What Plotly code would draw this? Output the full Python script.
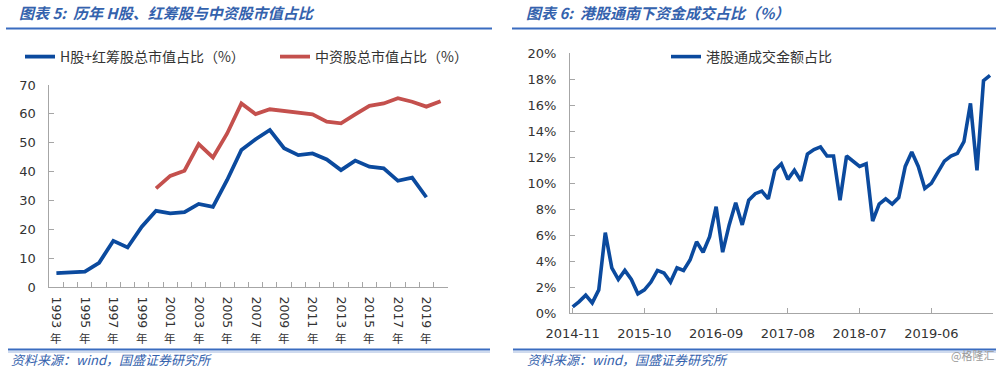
import plotly.graph_objects as go

# ---------------- data ----------------
years = [str(y) for y in range(1993, 2021)]
h_red_chip_share = [4.8, 4.9, 5.3, 8.4, 16.0, 13.7, 20.9, 26.4, 25.5, 25.9, 28.8, 27.8,
                    37.1, 47.5, 51.2, 54.4, 48.1, 45.7, 46.3, 44.2, 40.5, 43.8, 41.7,
                    41.1, 36.8, 37.9, 31.1, None]
chinese_share = [None] * 7 + [34.2, 38.5, 40.3, 49.5, 44.9, 53.2, 63.6, 59.9, 61.6,
                              61.0, 60.2, 59.8, 57.3, 56.7, 59.8, 62.8, 63.6, 65.4,
                              64.2, 62.5, 64.4]
year_labels = [y if (int(y) - 1993) % 2 == 0 else "" for y in years]


def month_range(y0, m0, n):
    out = []
    y, m = y0, m0
    for _ in range(n):
        out.append(f"{y}-{m:02d}")
        m += 1
        if m > 12:
            m = 1
            y += 1
    return out


months = month_range(2014, 11, 65)
sb_turnover_share = [0.5, 0.9, 1.4, 0.8, 1.8, 6.2, 3.5, 2.6, 3.3, 2.6, 1.5, 1.8, 2.4,
                     3.3, 3.1, 2.4, 3.5, 3.3, 4.1, 5.5, 4.7, 5.9, 8.2, 4.7, 6.8, 8.5,
                     6.8, 8.7, 9.2, 9.4, 8.8, 11.0, 11.5, 10.3, 11.0, 10.2, 12.25, 12.6,
                     12.8, 12.1, 12.1, 8.7, 12.1, 11.7, 11.3, 11.5, 7.1, 8.4, 8.8, 8.4,
                     8.9, 11.3, 12.4, 11.3, 9.6, 10.0, 10.9, 11.7, 12.1, 12.3, 13.2,
                     16.15, 11.0, 17.9, 18.3]
month_ticks = ["2014-11", "2015-10", "2016-09", "2017-08", "2018-07", "2019-06"]

# ---------------- styles ----------------
W, H = 1000, 369
BLUE = "#0b4a9e"
RED = "#c4504d"
TITLE_BLUE = "#3462ad"
AXIS = "#a6a6a6"
TXT = "#333333"
CJK = "Noto Sans CJK SC"
NUM = "DejaVu Sans"


def px_x(x):
    return x / W


def px_y(y):
    return 1 - y / H


fig = go.Figure()

fig.add_trace(go.Scatter(x=years, y=h_red_chip_share, mode="lines",
                         name="H股+红筹股总市值占比（%）",
                         line=dict(color=BLUE, width=3.8), xaxis="x", yaxis="y",
                         legend="legend", connectgaps=False))
fig.add_trace(go.Scatter(x=years, y=chinese_share, mode="lines",
                         name="中资股总市值占比（%）",
                         line=dict(color=RED, width=3.8), xaxis="x", yaxis="y",
                         legend="legend", connectgaps=False))
fig.add_trace(go.Scatter(x=months, y=sb_turnover_share, mode="lines",
                         name="港股通成交金额占比",
                         line=dict(color=BLUE, width=3.6), xaxis="x2", yaxis="y2",
                         legend="legend2"))

axis_common = dict(showline=True, linecolor=AXIS, linewidth=1, ticks="inside",
                   ticklen=5, tickcolor=AXIS, showgrid=False, zeroline=False,
                   automargin=False,
                   tickfont=dict(family=NUM, size=13, color=TXT))

fig.update_layout(
    width=W, height=H, autosize=False,
    margin=dict(l=0, r=0, t=0, b=0, pad=0),
    paper_bgcolor="white", plot_bgcolor="white",
    xaxis=dict(axis_common, type="category", domain=[px_x(49.3), px_x(447.7)],
               range=[-0.5, len(years) - 0.5], tickmode="array",
               tickvals=years, ticktext=year_labels, tickson="boundaries",
               tickangle=90, tickfont=dict(family=NUM, size=12.5, color=TXT),
               ticklabelstandoff=6, anchor="y"),
    yaxis=dict(axis_common, domain=[px_y(287), px_y(85)], range=[0, 70], dtick=10,
               ticklabelstandoff=10, anchor="x"),
    xaxis2=dict(axis_common, type="category", domain=[px_x(570), px_x(992.7)],
                range=[-0.41, len(months) - 0.59], tickmode="array",
                tickvals=month_ticks, ticktext=month_ticks, tickangle=0,
                ticklabelstandoff=8, anchor="y2"),
    yaxis2=dict(axis_common, domain=[px_y(313.3), px_y(53.3)], range=[0, 20], dtick=2,
                ticksuffix="%", ticklabelstandoff=10, anchor="x2"),
    legend=dict(orientation="h", x=px_x(20), y=px_y(57), xanchor="left",
                yanchor="middle", bgcolor="rgba(0,0,0,0)",
                font=dict(family=CJK, size=14, color=TXT),
                entrywidth=210, entrywidthmode="pixels"),
    legend2=dict(orientation="h", x=px_x(666), y=px_y(57), xanchor="left",
                 yanchor="middle", bgcolor="rgba(0,0,0,0)",
                 font=dict(family=CJK, size=14, color=TXT)),
    showlegend=True,
)

annotations = []
# upright "年" under rotated year labels
for i, lab in enumerate(year_labels):
    if lab:
        annotations.append(dict(x=i, xref="x", y=px_y(338), yref="paper", text="年",
                                showarrow=False, yanchor="middle",
                                font=dict(family=CJK, size=11.5, color=TXT)))

title_font = dict(family=CJK, size=15, color=TITLE_BLUE, style="italic", weight="bold")
foot_font = dict(family=CJK, size=13, color=TITLE_BLUE, style="italic")
annotations += [
    dict(x=px_x(17), y=px_y(13), xref="paper", yref="paper", xanchor="left",
         yanchor="middle", text="图表 5:  历年 H股、红筹股与中资股市值占比",
         showarrow=False, font=title_font),
    dict(x=px_x(524), y=px_y(13), xref="paper", yref="paper", xanchor="left",
         yanchor="middle", text="图表 6:  港股通南下资金成交占比（%）",
         showarrow=False, font=title_font),
    dict(x=px_x(10), y=px_y(359), xref="paper", yref="paper", xanchor="left",
         yanchor="middle", text="资料来源：wind，国盛证券研究所", borderpad=0,
         showarrow=False, font=foot_font),
    dict(x=px_x(526), y=px_y(359), xref="paper", yref="paper", xanchor="left",
         yanchor="middle", text="资料来源：wind，国盛证券研究所", borderpad=0,
         showarrow=False, font=foot_font),
    dict(x=px_x(996), y=px_y(355), xref="paper", yref="paper", xanchor="right",
         yanchor="middle", text="@格隆汇", showarrow=False,
         font=dict(family=CJK, size=11, color="#9a9a9a")),
]
fig.update_layout(annotations=annotations)

shapes = []
for x0, x1 in [(6, 492), (512, 996)]:
    shapes.append(dict(type="line", xref="paper", yref="paper", x0=px_x(x0), x1=px_x(x1),
                       y0=px_y(28.5), y1=px_y(28.5), line=dict(color="#3a6cc0", width=2.2)))
for x0, x1 in [(8, 490), (513, 996)]:
    shapes.append(dict(type="line", xref="paper", yref="paper", x0=px_x(x0), x1=px_x(x1),
                       y0=px_y(349.5), y1=px_y(349.5), line=dict(color="#3a6cc0", width=2)))
    shapes.append(dict(type="line", xref="paper", yref="paper", x0=px_x(x0), x1=px_x(x1),
                       y0=px_y(352), y1=px_y(352), line=dict(color="#9fb6de", width=1)))
fig.update_layout(shapes=shapes)

# remove the browser's default page margin so the 1000x369 figure fills the window
page_fix = ("document.documentElement.style.margin='0';"
            "document.body.style.margin='0';"
            "document.body.style.padding='0';"
            "document.body.style.overflow='hidden';")
fig.write_html("out.html", post_script=page_fix,
               config={"displayModeBar": False})
